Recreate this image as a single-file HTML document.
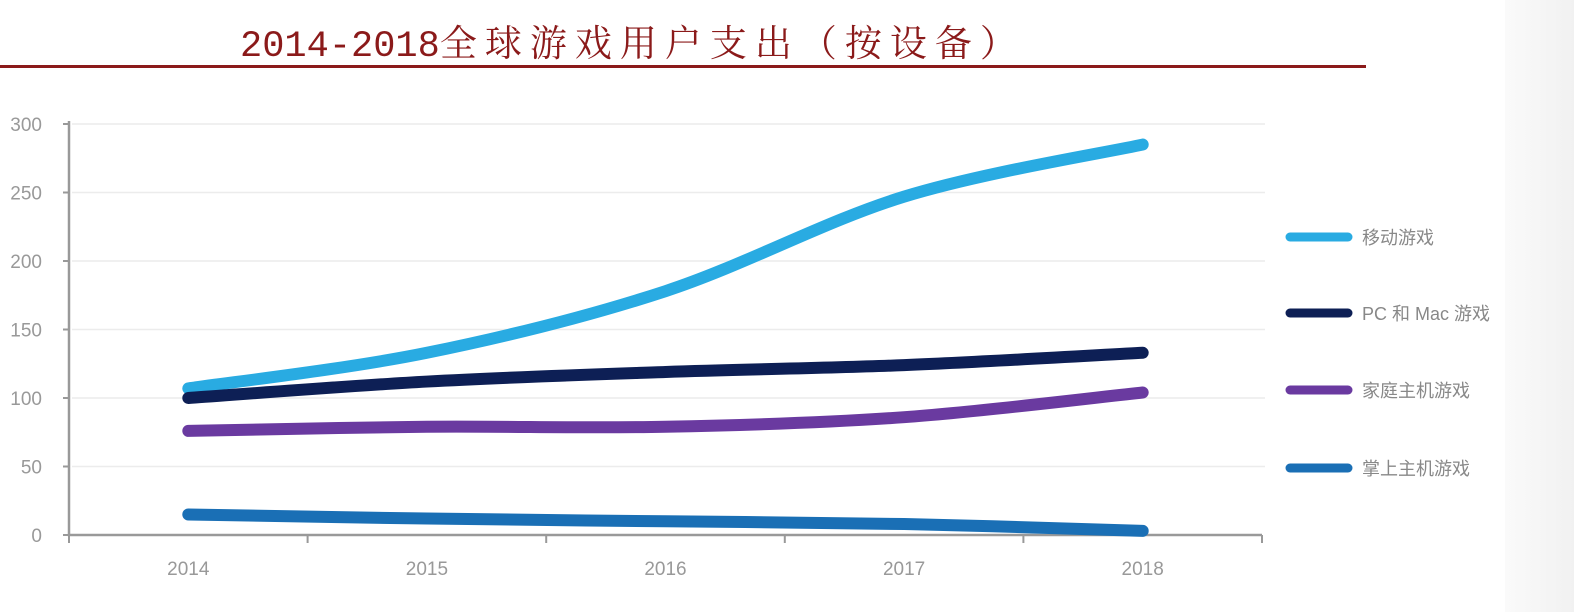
<!DOCTYPE html>
<html><head><meta charset="utf-8">
<style>
body{margin:0;width:1574px;height:612px;background:#fff;overflow:hidden;position:relative;font-family:"Liberation Sans","Noto Sans CJK SC",sans-serif}
#strip{position:absolute;left:1505px;top:0;width:69px;height:612px;background:linear-gradient(90deg,#fafafa,#f1f1f1)}
#title{position:absolute;left:240px;top:13px;white-space:nowrap;font-family:"Liberation Mono","Noto Serif CJK SC",serif;font-size:37px;color:#8b1a1a}
#title .cj{letter-spacing:8px}
#rule{position:absolute;left:0;top:65px;width:1366px;height:3px;background:#8b1a1a}
</style></head><body>
<div id="strip"></div>
<div id="title">2014-2018<span class="cj">全球游戏用户支出（按设备）</span></div>
<div id="rule"></div>
<svg id="chart" width="1574" height="612" style="position:absolute;left:0;top:0"></svg>
<script>
const categories=["2014","2015","2016","2017","2018"];
const yTicks=[0,50,100,150,200,250,300];
const seriesNames=["移动游戏","PC 和 Mac 游戏","家庭主机游戏","掌上主机游戏"];
const mobile=[107,133,178,247,285];
const pc=[100,112,119,124,133];
const consoleG=[76,79,79,86,104];
const handheld=[15,12,10,8,3];
const colors=["#29abe2","#0d1f55","#6a3aa0","#1a6fb5"];
const NS="http://www.w3.org/2000/svg",svg=document.getElementById('chart');
const x0=69,x1=1262,yb=535,yt=124;
const X=i=>x0+(x1-x0)/categories.length*(i+0.5);
const Y=v=>yb-(yb-yt)*v/300;
function mk(t,a,p){const e=document.createElementNS(NS,t);for(const k in a)e.setAttribute(k,a[k]);(p||svg).appendChild(e);return e;}
yTicks.forEach(v=>{
 if(v>0){const g=mk('line',{x1:x0+3,x2:x1+3,y1:Y(v),y2:Y(v),stroke:'#ececec','stroke-width':1.5});
 
 }
 const tk=mk('line',{x1:x0-6,x2:x0,y1:Y(v),y2:Y(v),stroke:'#999','stroke-width':2});
 
 
 const t=mk('text',{x:42,y:Y(v)+7,'text-anchor':'end',fill:'#999','font-size':19});
 t.textContent=v;
 
 
});
const ax=mk('path',{d:`M${x0} ${yt-3}V${yb}H${x1}`,stroke:'#999','stroke-width':2.5,fill:'none'});


for(let i=0;i<=categories.length;i++){const xx=x0+(x1-x0)/categories.length*i;
 const t=mk('line',{x1:xx,x2:xx,y1:yb,y2:yb+8,stroke:'#999','stroke-width':2});
 
 }
categories.forEach((c,i)=>{const t=mk('text',{x:X(i),y:575,'text-anchor':'middle',fill:'#999','font-size':19});
 t.textContent=c;
 
 });
function curve(d){const p=d.map((v,i)=>[X(i),Y(v)]);let s=`M${p[0][0]} ${p[0][1]}`;
 for(let i=0;i<p.length-1;i++){const a=p[Math.max(0,i-1)],b=p[i],c=p[i+1],e=p[Math.min(p.length-1,i+2)];
 s+=`C${b[0]+(c[0]-a[0])/6} ${b[1]+(c[1]-a[1])/6} ${c[0]-(e[0]-b[0])/6} ${c[1]-(e[1]-b[1])/6} ${c[0]} ${c[1]}`;}return s;}
const data=[mobile,pc,consoleG,handheld];
const slugs=['mobile','pc-mac','console','handheld'];
[3,2,0,1].forEach(k=>{const l=mk('path',{d:curve(data[k]),stroke:colors[k],'stroke-width':12,fill:'none','stroke-linecap':'round'});
 
 });
const ly=[237,313,390,468];
seriesNames.forEach((n,k)=>{const g=mk('g',{});
 
 
 mk('line',{x1:1290,x2:1348,y1:ly[k],y2:ly[k],stroke:colors[k],'stroke-width':9,'stroke-linecap':'round'},g);
 const t=mk('text',{x:1362,y:ly[k]+7,fill:'#888','font-size':18},g);t.textContent=n;});
</script>
</body></html>
